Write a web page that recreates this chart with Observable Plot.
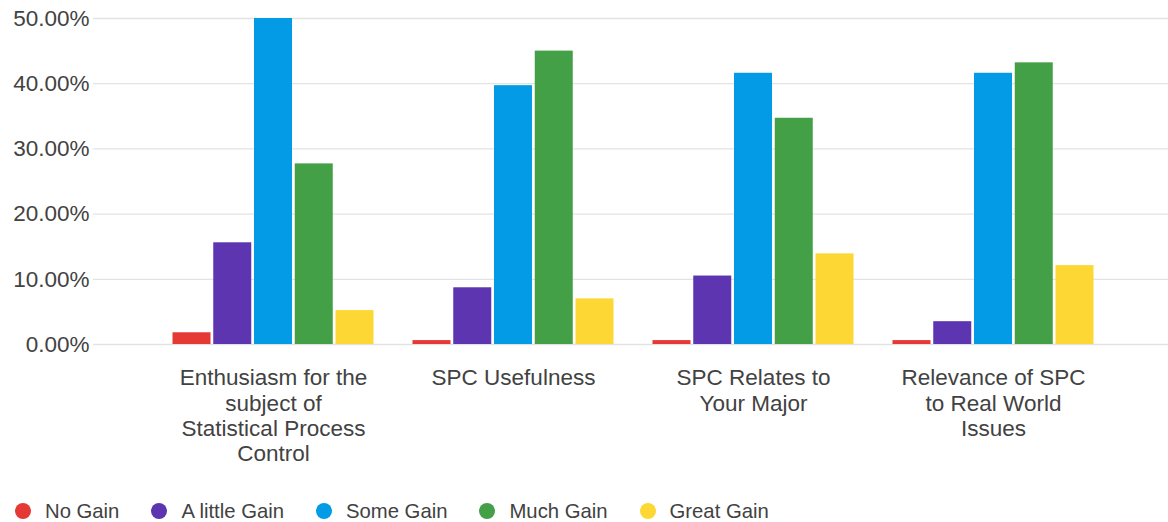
<!DOCTYPE html>
<html>
<head>
<meta charset="utf-8">
<script src="https://cdn.jsdelivr.net/npm/d3@7"></script>
<script src="https://cdn.jsdelivr.net/npm/@observablehq/plot@0.6"></script>
<style>
  html, body { margin: 0; padding: 0; background: #fff; }
  body { width: 1168px; height: 522px; overflow: hidden; font-family: "Liberation Sans", Arial, sans-serif; }
  #legend { display: flex; align-items: center; height: 26px; margin-top: 20px; padding-left: 15px; color: #424242; font-size: 20.3px; }
  #legend .item { display: flex; align-items: center; margin-right: 32px; }
  #legend .dot { width: 16px; height: 16px; border-radius: 50%; margin-right: 14px; }
</style>
</head>
<body>
<div id="chart"></div>
<div id="legend"></div>
<script>
// Survey topics (x groups) and their wrapped axis labels
const categories = [
  "Enthusiasm for the subject of Statistical Process Control",
  "SPC Usefulness",
  "SPC Relates to Your Major",
  "Relevance of SPC to Real World Issues"
];
const categoryLabels = [
  "Enthusiasm for the\nsubject of\nStatistical Process\nControl",
  "SPC Usefulness",
  "SPC Relates to\nYour Major",
  "Relevance of SPC\nto Real World\nIssues"
];

// Response levels and their colours
const seriesNames = ["No Gain", "A little Gain", "Some Gain", "Much Gain", "Great Gain"];
const seriesColors = ["#e53935", "#5e35b1", "#039be5", "#43a047", "#fdd835"];

// Share of respondents (%) per topic, one array per response level
const noGain      = [1.8, 0.6, 0.6, 0.6];
const aLittleGain = [15.6, 8.7, 10.5, 3.5];
const someGain    = [50.0, 39.7, 41.6, 41.6];
const muchGain    = [27.7, 45.0, 34.7, 43.2];
const greatGain   = [5.2, 7.0, 13.9, 12.1];
const seriesValues = [noGain, aLittleGain, someGain, muchGain, greatGain];

const yTicks = [0, 10, 20, 30, 40, 50];

const barWidth = 38;
const barStep = 40.75;
const groupBand = 240;

const bars = seriesValues.map((values, si) =>
  Plot.barY(categories.map((c, i) => ({category: c, value: values[i]})), {
    x: "category",
    y: "value",
    fill: seriesColors[si],
    insetLeft: (groupBand - barWidth) / 2,
    insetRight: (groupBand - barWidth) / 2,
    dx: (si - 2) * barStep
  })
);

const labelOf = new Map(categories.map((c, i) => [c, categoryLabels[i]]));

const chart = Plot.plot({
  width: 1168,
  height: 478,
  marginLeft: 93,
  marginRight: 0,
  marginTop: 18,
  marginBottom: 134,
  style: {fontFamily: "'Liberation Sans', Arial, sans-serif", color: "#424242", background: "#fff"},
  x: {type: "band", domain: categories, range: [153, 153 + groupBand * categories.length], padding: 0},
  y: {domain: [0, 50]},
  marks: [
    Plot.gridY(yTicks, {stroke: "#e3e3e3", strokeOpacity: 1, strokeWidth: 1.3}),
    ...bars,
    Plot.axisY(yTicks, {
      tickSize: 0,
      tickPadding: 4,
      fontSize: 22.5,
      fill: "#424242",
      tickFormat: d => d.toFixed(2) + "%",
      label: null
    }),
    Plot.axisX({
      tickSize: 0,
      tickPadding: 23,
      fontSize: 22.5,
      lineHeight: 1.12,
      fill: "#424242",
      tickFormat: d => labelOf.get(d),
      label: null
    })
  ]
});
document.getElementById("chart").appendChild(chart);

// Legend below the chart
const legend = document.getElementById("legend");
seriesNames.forEach((name, i) => {
  const item = document.createElement("div");
  item.className = "item";
  const dot = document.createElement("span");
  dot.className = "dot";
  dot.style.background = seriesColors[i];
  const label = document.createElement("span");
  label.textContent = name;
  item.appendChild(dot);
  item.appendChild(label);
  legend.appendChild(item);
});
</script>
</body>
</html>
